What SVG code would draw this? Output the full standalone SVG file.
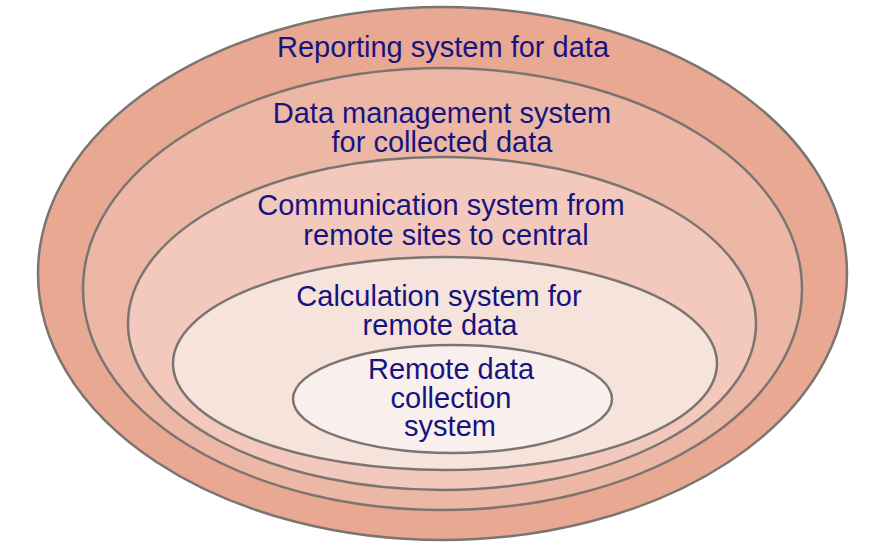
<svg xmlns="http://www.w3.org/2000/svg" width="884" height="550" viewBox="0 0 884 550">
<style>
.ring{stroke:#7b7471;stroke-width:2.5}
.lbl{font-family:"Liberation Sans",Arial,sans-serif;font-size:29px;fill:#16147f;text-anchor:middle}
</style>
<rect width="884" height="550" fill="#ffffff"/>
<g id="reporting">
<ellipse class="ring" cx="442.5" cy="273.5" rx="404.5" ry="266.5" fill="#e9a892"/>
<text class="lbl" x="443" y="57">Reporting system for data</text>
</g>
<g id="data-management">
<ellipse class="ring" cx="442.5" cy="289" rx="359.5" ry="221" fill="#edb7a5"/>
<text class="lbl" x="442" y="123">Data management system</text>
<text class="lbl" x="442" y="152">for collected data</text>
</g>
<g id="communication">
<ellipse class="ring" cx="442" cy="323.5" rx="314" ry="166.5" fill="#f2c9bc"/>
<text class="lbl" x="441" y="215">Communication system from</text>
<text class="lbl" x="446" y="245">remote sites to central</text>
</g>
<g id="calculation">
<ellipse class="ring" cx="445" cy="363.5" rx="272" ry="106.5" fill="#f6e3dc"/>
<text class="lbl" x="439" y="306">Calculation system for</text>
<text class="lbl" x="440" y="335">remote data</text>
</g>
<g id="remote-collection">
<ellipse class="ring" cx="452.5" cy="399" rx="159.5" ry="54" fill="#f9efec"/>
<text class="lbl" x="451" y="379">Remote data</text>
<text class="lbl" x="451" y="408">collection</text>
<text class="lbl" x="450" y="436">system</text>
</g>
<g id="connectors"/>
</svg>
